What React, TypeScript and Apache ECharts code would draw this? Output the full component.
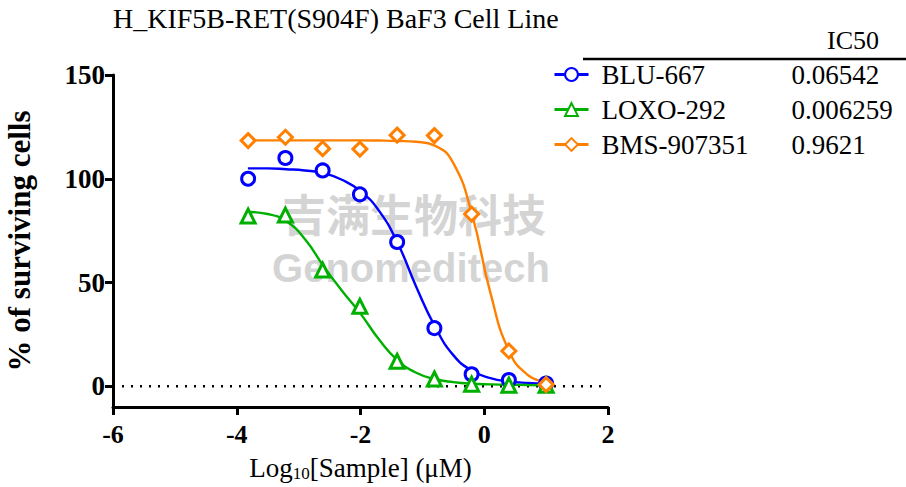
import React, { useEffect, useRef } from "react";
import * as echarts from "echarts";

const titleText = "H_KIF5B-RET(S904F) BaF3 Cell Line";
const compounds = ["BLU-667", "LOXO-292", "BMS-907351"];
const ic50Values = ["0.06542", "0.006259", "0.9621"];
const colors = ["#0000FF", "#00B000", "#FF8000"];
const symbols = ["circle", "triangle", "diamond"];

// log10 concentration of measured points
const xPts = [-3.816, -3.214, -2.612, -2.01, -1.408, -0.806, -0.204, 0.398, 1.0];
const bluPts = [100, 110, 104, 92.5, 69.5, 28, 5.8, 3, 1.3];
const loxoPts = [82, 82.5, 56, 38.5, 12, 3.5, 1, 0.5, 0.5];
const bmsPts = [118.4, 120, 114.5, 114.3, 121, 120.8, 83, 17, 0.8];

// fitted curves
const curveX = [-3.82, -3.5, -3.2, -2.9, -2.6, -2.3, -2.0, -1.7, -1.4, -1.1, -0.8, -0.5, -0.2, 0.1, 0.4, 0.7, 1.0];
const bluCurve = [105, 105, 104.6, 104, 102.7, 99.5, 94, 84.5, 69, 48, 29, 15, 7.5, 3.9, 2.3, 1.6, 1.3];
const loxoCurve = [84, 83, 79.5, 71, 58, 46, 35, 22.5, 12.5, 6.5, 3.5, 2, 1.2, 0.9, 0.7, 0.6, 0.5];
const bmsCurve = [118.5, 118.5, 118.5, 118.5, 118.5, 118.5, 118.5, 118.4, 118.2, 117.8, 116, 107.5, 83, 45, 17, 5.5, 2];

const yTicks = [0, 50, 100, 150];

const FONT = "'Liberation Serif', 'Times New Roman', serif";

export default function App() {
  const ref = useRef<HTMLDivElement>(null);
  useEffect(() => {
    if (!ref.current) return;
    const chart = echarts.init(ref.current, undefined, { renderer: "svg" });
    const pts = [bluPts, loxoPts, bmsPts];
    const curves = [bluCurve, loxoCurve, bmsCurve];
    const series: any[] = [];
    compounds.forEach((name, i) => {
      series.push({
        name,
        type: "line",
        data: curveX.map((x, k) => [x, curves[i][k]]),
        smooth: 0.5,
        showSymbol: false,
        symbol: symbols[i],
        symbolSize: 13,
        lineStyle: { color: colors[i], width: 2.4 },
        itemStyle: { color: "#fff", borderColor: colors[i], borderWidth: 3 },
        z: 3,
        silent: true,
      });
    });
    compounds.forEach((name, i) => {
      series.push({
        name,
        type: "scatter",
        data: xPts.map((x, k) => [x, pts[i][k]]),
        symbol: symbols[i],
        symbolSize: i === 0 ? 13 : 14,
        itemStyle: { color: "#fff", borderColor: colors[i], borderWidth: 3, opacity: 1 },
        z: 4,
      });
    });
    // dotted zero line
    series.push({
      name: "zero",
      type: "line",
      data: [[-6, 0], [2, 0]],
      showSymbol: false,
      lineStyle: { color: "#000", width: 2.5, type: [2, 7] },
      z: 2,
      silent: true,
    });

    chart.setOption({
      animation: false,
      backgroundColor: "#fff",
      grid: { left: 113, right: 298, top: 75, bottom: 80, containLabel: false, outerBoundsMode: "none" },
      legend: {
        data: compounds,
        orient: "vertical",
        left: 548,
        top: 55,
        itemWidth: 34,
        itemHeight: 16,
        itemGap: 6,
        lineStyle: { width: 3 },
        formatter: (name: string) => `{n|${name}}{v|${ic50Values[compounds.indexOf(name)]}}`,
        textStyle: {
          fontFamily: FONT,
          fontSize: 27,
          color: "#000",
          lineHeight: 29,
          rich: {
            n: { fontFamily: FONT, fontSize: 27, width: 190, padding: [0, 0, 0, 8], color: "#000" },
            v: { fontFamily: FONT, fontSize: 27, color: "#000" },
          },
        },
      },
      xAxis: {
        type: "value",
        min: -6,
        max: 2,
        interval: 2,
        axisLine: { onZero: false, lineStyle: { color: "#000", width: 3 } },
        axisTick: { length: 8, lineStyle: { color: "#000", width: 3 } },
        axisLabel: { fontFamily: FONT, fontSize: 26, fontWeight: "bold", color: "#000", margin: 14 },
        splitLine: { show: false },
        name: "Log{s|10}[Sample] (μM)",
        nameLocation: "middle",
        nameGap: 46,
        nameTextStyle: {
          fontFamily: FONT,
          fontSize: 27,
          color: "#000",
          rich: {
            s: { fontFamily: FONT, fontSize: 17, verticalAlign: "bottom", padding: [12, 0, 0, 0], color: "#000" },
          },
        },
      },
      yAxis: {
        type: "value",
        min: -10,
        max: 150,
        axisLine: { show: true, onZero: false, lineStyle: { color: "#000", width: 3 } },
        axisTick: { show: true, length: 8, customValues: yTicks, lineStyle: { color: "#000", width: 3 } },
        axisLabel: { customValues: yTicks, fontFamily: FONT, fontSize: 27, fontWeight: "bold", color: "#000", margin: 8 },
        splitLine: { show: false },
        name: "% of surviving cells",
        nameLocation: "middle",
        nameGap: 78,
        nameTextStyle: { fontFamily: FONT, fontSize: 31, fontWeight: "bold", color: "#000" },
      },
      graphic: [
        {
          type: "text",
          left: 113,
          top: 4,
          z: 10,
          style: { text: titleText, font: `28px ${FONT}`, fill: "#000" },
        },
        {
          type: "text",
          x: 853,
          y: 40,
          z: 10,
          style: { text: "IC50", font: `26px ${FONT}`, fill: "#000", align: "center", verticalAlign: "middle" },
        },
        {
          type: "line",
          z: 10,
          shape: { x1: 583, y1: 59, x2: 906, y2: 59 },
          style: { stroke: "#000", lineWidth: 2.5 },
        },
        {
          type: "text",
          x: 414,
          y: 213,
          z: 0,
          style: {
            text: "吉满生物科技",
            font: `bold 44px 'Noto Sans CJK SC'`,
            fill: "rgba(170,170,170,0.5)",
            align: "center",
            verticalAlign: "middle",
          },
        },
        {
          type: "text",
          x: 411,
          y: 268,
          z: 0,
          style: {
            text: "Genomeditech",
            font: `bold 40px 'Liberation Sans', Arial, sans-serif`,
            fill: "rgba(170,170,170,0.5)",
            align: "center",
            verticalAlign: "middle",
          },
        },
      ],
      series,
    });
    return () => chart.dispose();
  }, []);
  return <div ref={ref} style={{ position: "fixed", left: 0, top: 0, width: 906, height: 487 }} />;
}
